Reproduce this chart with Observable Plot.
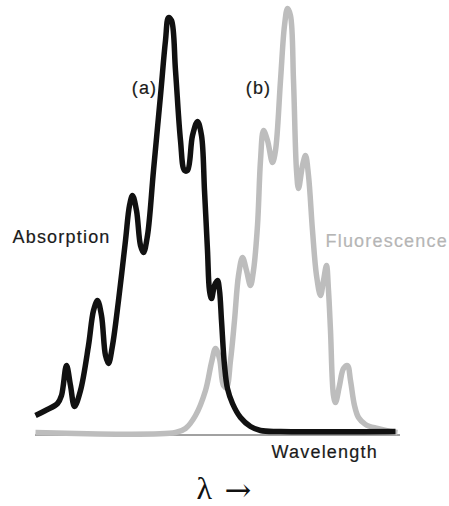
<!DOCTYPE html>
<html>
<head>
<meta charset="utf-8">
<script src="https://cdn.jsdelivr.net/npm/d3@7"></script>
<script src="https://cdn.jsdelivr.net/npm/@observablehq/plot@0.6"></script>
<style>
  html, body { margin: 0; padding: 0; background: #fff; }
  .lbl text { letter-spacing: 1.2px; }
</style>
</head>
<body>
<div id="chart"></div>
<script>
// Absorption spectrum (a): wavelength position, intensity
const absWavelength = [35,45,57,61,66,70,74,80,88,93,97,101,105,108,112,118,125,129,132,136,140,143,147,153,160,165,168,171,175,180,184,187,192,197,201,204,207,209,211,214,217,219,221,224,227,232,240,250,260,280,395];
const absIntensity  = [17,22,29,37,67,47,26,42,87,122,132,117,77,69,87,132,192,227,237,222,187,180,197,262,337,392,415,412,362,292,262,262,297,311,297,242,182,142,134,147,152,142,112,67,44,29,15,6,2,1,1];

// Fluorescence spectrum (b)
const fluWavelength = [35,175,185,195,205,211,215,219,223,226,230,234,238,242,246,250,253,257,260,263,267,272,275,280,284,287,290,293,296,298,302,305,308,312,316,320,323,326,328,330,333,335,339,343,347,350,354,358,365,377,390,397];
const fluIntensity  = [0,0,4,17,42,70,84,74,47,45,72,112,157,175,162,147,162,207,272,302,292,270,282,352,407,424,417,352,262,244,267,277,257,202,157,137,152,167,142,102,37,30,47,64,67,52,27,15,8,4,1,0];

// Text labels
const labelText  = ["(a)", "(b)", "Absorption", "Fluorescence", "Wavelength"];
const labelX     = [144, 258, 12, 325, 271];
const labelY     = [344, 344, 195, 191, -20];
const labelColor = ["#1a1a1a", "#1a1a1a", "#1a1a1a", "#b5b5b5", "#1a1a1a"];
const labelAnchor = ["middle", "middle", "start", "start", "start"];
const axisSymbol = "λ";
const axisArrow = "→";

const absData = absWavelength.map((x, i) => ({x, y: absIntensity[i]}));
const fluData = fluWavelength.map((x, i) => ({x, y: fluIntensity[i]}));
const labels = labelText.map((t, i) => ({t, x: labelX[i], y: labelY[i], c: labelColor[i], a: labelAnchor[i]}));

const chart = Plot.plot({
  width: 449,
  height: 506,
  marginTop: 0,
  marginBottom: 74,
  marginLeft: 0,
  marginRight: 0,
  x: {domain: [0, 449], axis: null},
  y: {domain: [0, 432], axis: null},
  style: {background: "#fff", fontFamily: "'Liberation Sans', Arial, sans-serif"},
  marks: [
    Plot.ruleY([-2.5], {x1: 35, x2: 400, stroke: "#444", strokeWidth: 1}),
    Plot.line(fluData, {x: "x", y: "y", stroke: "#bdbdbd", strokeWidth: 5.5, curve: "catmull-rom", strokeLinejoin: "round", strokeLinecap: "butt"}),
    Plot.line(absData, {x: "x", y: "y", stroke: "#111", strokeWidth: 5.5, curve: "catmull-rom", strokeLinejoin: "round", strokeLinecap: "butt"}),
    Plot.text(labels.filter(d => d.a === "middle"), {x: "x", y: "y", text: "t", fill: "c", stroke: "c", strokeWidth: 0.2, fontSize: 18, textAnchor: "middle", className: "lbl"}),
    Plot.text(labels.filter(d => d.a === "start"), {x: "x", y: "y", text: "t", fill: "c", stroke: "c", strokeWidth: 0.2, fontSize: 18, textAnchor: "start", className: "lbl"}),
    Plot.text([axisSymbol], {x: 196, y: -56, text: d => d, fill: "#111", fontSize: 32, textAnchor: "start", fontFamily: "'Liberation Serif', serif"}),
    Plot.text([axisArrow], {x: 224, y: -58, text: d => d, fill: "#111", fontSize: 32, textAnchor: "start", fontFamily: "'DejaVu Serif', serif"})
  ]
});
document.getElementById("chart").appendChild(chart);
</script>
</body>
</html>
